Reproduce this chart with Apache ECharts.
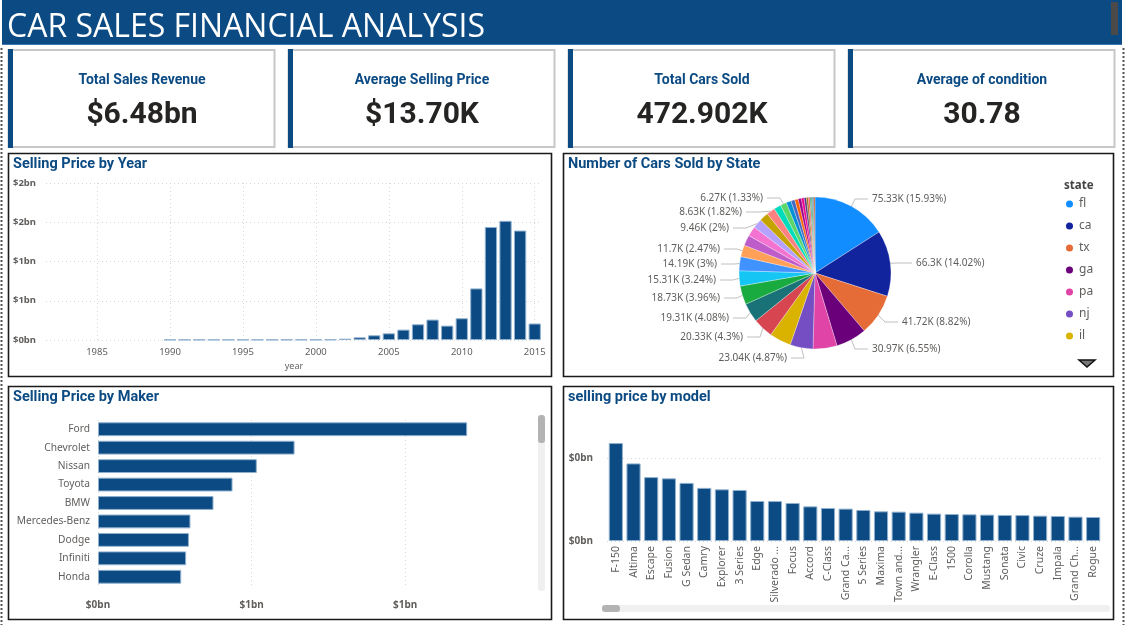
<!DOCTYPE html>
<html><head><meta charset="utf-8">
<style>html,body{margin:0;padding:0;background:#fff;overflow:hidden}#c{width:1129px;height:625px}</style>
<script src="https://cdn.jsdelivr.net/npm/echarts@6/dist/echarts.min.js"></script></head>
<body><div id="c"></div>
<script>
const years=['1982','1983','1984','1985','1986','1987','1988','1989','1990','1991','1992','1993','1994','1995','1996','1997','1998','1999','2000','2001','2002','2003','2004','2005','2006','2007','2008','2009','2010','2011','2012','2013','2014','2015'];
const yearValues=[null,null,null,null,null,null,null,null,0.004,0.004,0.004,0.004,0.004,0.004,0.004,0.004,0.005,0.005,0.005,0.006,0.017,0.034,0.06,0.085,0.132,0.2,0.26,0.183,0.277,0.657,1.44,1.518,1.394,0.21];
const makers=['Ford','Chevrolet','Nissan','Toyota','BMW','Mercedes-Benz','Dodge','Infiniti','Honda'];
const makerValues=[1.202,0.64,0.517,0.438,0.376,0.301,0.296,0.287,0.271];
const models=['F-150','Altima','Escape','Fusion','G Sedan','Camry','Explorer','3 Series','Edge','Silverado ...','Focus','Accord','C-Class','Grand Ca...','5 Series','Maxima','Town and...','Wrangler','E-Class','1500','Corolla','Mustang','Sonata','Civic','Cruze','Impala','Grand Ch...','Rogue'];
const modelValues=[0.236,0.187,0.154,0.151,0.14,0.128,0.1245,0.123,0.0964,0.0962,0.0916,0.0835,0.0795,0.078,0.0747,0.0715,0.0707,0.0683,0.0659,0.065,0.0643,0.0635,0.0627,0.0625,0.061,0.0602,0.0586,0.0578];
const states=['fl','ca','tx','ga','pa','nj','il','nc','oh','tn','mo','mi','nv','az','wi','va','co','md','wa','ma','mn','pr','la','sc','ut','hi','ms','ok','al','ne','or','in','ny'];
const stateValues=[75.33,66.3,41.72,30.97,24.1,23.04,21.75,20.33,19.31,18.73,15.31,14.19,11.7,10.6,9.9,9.46,9.0,8.63,7.1,6.27,4.9,3.9,3.5,3.1,2.8,2.3,1.9,1.6,1.3,1.1,0.9,0.7,1.1];
const stateLabels=['75.33K (15.93%)','66.3K (14.02%)','41.72K (8.82%)','30.97K (6.55%)','','23.04K (4.87%)','','20.33K (4.3%)','19.31K (4.08%)','18.73K (3.96%)','15.31K (3.24%)','14.19K (3%)','11.7K (2.47%)','','','9.46K (2%)','','8.63K (1.82%)','','6.27K (1.33%)','','','','','','','','','','','','',''];
const legendStates=['fl','ca','tx','ga','pa','nj','il'];
const palette=['#118DFF','#12239E','#E66C37','#6B007B','#E044A7','#744EC2','#D9B300','#D64550','#197278','#1AAB40','#15C6F4','#4092FF','#FFA058','#BE5DC9','#F472D0','#B5A1FF','#C4A200','#FF8080','#00DBBC','#5BD667','#0091D5','#4668C5','#FF6300','#99008A','#EC008C','#533285','#99700A','#FF4141','#1F9A85','#25891C','#0057A2','#002050','#C94F0F'];
const kpiNames=['Total Sales Revenue','Average Selling Price','Total Cars Sold','Average of condition'];
const kpiValues=['$6.48bn','$13.70K','472.902K','30.78'];
const panelTitles=['Selling Price by Year','Number of Cars Sold by State','Selling Price by Maker','selling price by model'];

const NAVY='#0B4A82', FONT='"Noto Sans",sans-serif', HEAD='Roboto,sans-serif', GREY='#605E5C';
const panels=[[8,153,543,223],[563,153,550,223],[8,386,543,233],[563,386,550,233]];
const cards=[8,288,568,848];
const labelSpots={fl:[872,199,'left'],ca:[916,263,'left'],tx:[902,322,'left'],ga:[872,349,'left'],nj:[787,358,'right'],nc:[743,337,'right'],oh:[729,318,'right'],tn:[720,298,'right'],mo:[716,280,'right'],mi:[717,264,'right'],nv:[720,249,'right'],va:[729,228,'right'],md:[742,212,'right'],ma:[763,198,'right']};
const g=[];
const rect=(x,y,w,h,fill,stroke,lw,r)=>g.push({type:'rect',silent:true,shape:{x,y,width:w,height:h,r:r||0},style:{fill:fill||'none',stroke:stroke||'none',lineWidth:lw||0}});
rect(2,0,1120,44,NAVY);
rect(2,44,1120,1,'#3d7ab5');
rect(1111,2,7,33,'#4a4a4a');
cards.forEach(x=>{rect(x+.5,50,266,97,'#fff','#c8c8c8',2);rect(x,49,5,99,NAVY);});
panels.forEach(p=>rect(p[0]+.5,p[1]+.5,p[2],p[3],'#fff','#1a1a1a',1.6));
[1.5,1123.5].forEach(x=>g.push({type:'line',silent:true,shape:{x1:x,y1:48,x2:x,y2:625},style:{stroke:'#555',lineWidth:2,lineDash:[2,2]}}));
rect(538,415,7,176,'#f0f0f0','',0,3);rect(538,415,7,28,'#b3b3b3','',0,3);
rect(602,605,508,7,'#f0f0f0','',0,3);rect(602,605,18,7,'#b3b3b3','',0,3);
g.push({type:'polygon',silent:true,shape:{points:[[1079,360],[1095,360],[1087,367]]},style:{fill:'#777',stroke:'#111',lineWidth:1.5}});

const titles=[{text:'CAR SALES FINANCIAL ANALYSIS',left:7,top:12,padding:0,textStyle:{color:'#fff',fontFamily:'"Open Sans",sans-serif',fontWeight:400,fontSize:32}}];
kpiNames.forEach((t,i)=>{
  titles.push({text:t,left:cards[i]+134,top:73,padding:0,textAlign:'center',textStyle:{color:NAVY,fontFamily:HEAD,fontWeight:700,fontSize:14}});
  titles.push({text:kpiValues[i],left:cards[i]+134,top:100,padding:0,textAlign:'center',textStyle:{color:'#252423',fontFamily:HEAD,fontWeight:700,fontSize:30}});
});
panelTitles.forEach((t,i)=>titles.push({text:t,left:panels[i][0]+5,top:panels[i][1]+4,padding:0,textStyle:{color:NAVY,fontFamily:HEAD,fontWeight:700,fontSize:14.5}}));
titles.push({text:'state',left:1064,top:180,padding:0,textStyle:{color:'#444',fontFamily:FONT,fontWeight:700,fontSize:11.5}});

const dotted={show:true,lineStyle:{color:'#d6d6d6',type:[1,3],width:1}};
const barStyle={color:NAVY,borderColor:'#8fb0cf',borderWidth:1};
const bn=v=>'$'+Math.round(v)+'bn';
const opt={animation:false,backgroundColor:'#fff',graphic:{elements:g},title:titles,
 grid:[{left:46,top:183,width:496,height:157},{left:98,top:420,width:430,height:166},{left:607,top:458,width:495,height:83}],
 legend:{data:legendStates,orient:'vertical',left:1064,top:198,padding:0,itemWidth:9,itemHeight:9,itemGap:10,icon:'circle',textStyle:{color:GREY,fontFamily:FONT,fontSize:12}},
 xAxis:[
  {gridIndex:0,type:'category',data:years,name:'year',nameLocation:'middle',nameGap:22,nameTextStyle:{color:GREY,fontFamily:FONT,fontSize:9},axisLine:{show:false},axisTick:{show:false},
   axisLabel:{color:GREY,fontFamily:FONT,fontSize:9.5,margin:7,interval:(i,v)=>+v%5===0},splitLine:Object.assign({alignWithLabel:true,interval:(i,v)=>+v%5===0},dotted)},
  {gridIndex:1,type:'value',min:0,max:1.4,interval:0.5,axisLine:{show:false},axisTick:{show:false},
   axisLabel:{color:GREY,fontFamily:FONT,fontSize:10,fontWeight:700,margin:14,showMaxLabel:false,formatter:bn},splitLine:Object.assign({showMaxLine:false},dotted)},
  {gridIndex:2,type:'category',data:models,axisLine:{show:false},axisTick:{show:false},
   axisLabel:{color:GREY,fontFamily:FONT,fontSize:10.5,rotate:90,interval:0,margin:5}}
 ],
 yAxis:[
  {gridIndex:0,type:'value',min:0,max:2,interval:0.5,axisLine:{show:false},axisTick:{show:false},axisLabel:{color:GREY,fontFamily:FONT,fontSize:9.5,fontWeight:700,margin:10,formatter:bn},splitLine:dotted},
  {gridIndex:1,type:'category',data:makers,inverse:true,axisLine:{show:false},axisTick:{show:false},axisLabel:{color:GREY,fontFamily:FONT,fontSize:10.2,margin:8,interval:0}},
  {gridIndex:2,type:'value',min:0,max:0.2,interval:0.2,axisLine:{show:false},axisTick:{show:false},axisLabel:{color:GREY,fontFamily:FONT,fontSize:10,fontWeight:700,margin:14,formatter:bn},splitLine:dotted}
 ],
 series:[
  {type:'bar',xAxisIndex:0,yAxisIndex:0,data:yearValues,barCategoryGap:'16%',itemStyle:barStyle},
  {type:'bar',xAxisIndex:1,yAxisIndex:1,data:makerValues,barCategoryGap:'25%',itemStyle:barStyle},
  {type:'bar',xAxisIndex:2,yAxisIndex:2,data:modelValues,barCategoryGap:'20%',itemStyle:barStyle,clip:false},
  {type:'pie',center:[815,273],radius:[0,76],startAngle:90,avoidLabelOverlap:false,color:palette,
   data:states.map((n,i)=>({name:n,value:stateValues[i],itemStyle:{borderColor:'#fff',borderWidth:0.3},label:{show:!!stateLabels[i],formatter:stateLabels[i]},labelLine:{show:!!stateLabels[i]}})),
   label:{color:GREY,fontFamily:FONT,fontSize:10},labelLine:{length:7,length2:12,lineStyle:{color:'#c0c0c0',width:1}},
   labelLayout:p=>{
     const s=labelSpots[states[p.dataIndex]];
     if(!s) return {};
     const dir=s[2]==='left'?-1:1;
     const pts=p.labelLinePoints;
     const out={x:s[0],y:s[1],align:s[2],verticalAlign:'middle',hideOverlap:false};
     if(pts) out.labelLinePoints=[pts[0],[s[0]+dir*17,s[1]],[s[0]+dir*4,s[1]]];
     return out;
   }}
 ]};
echarts.init(document.getElementById('c')).setOption(opt);
</script></body></html>
